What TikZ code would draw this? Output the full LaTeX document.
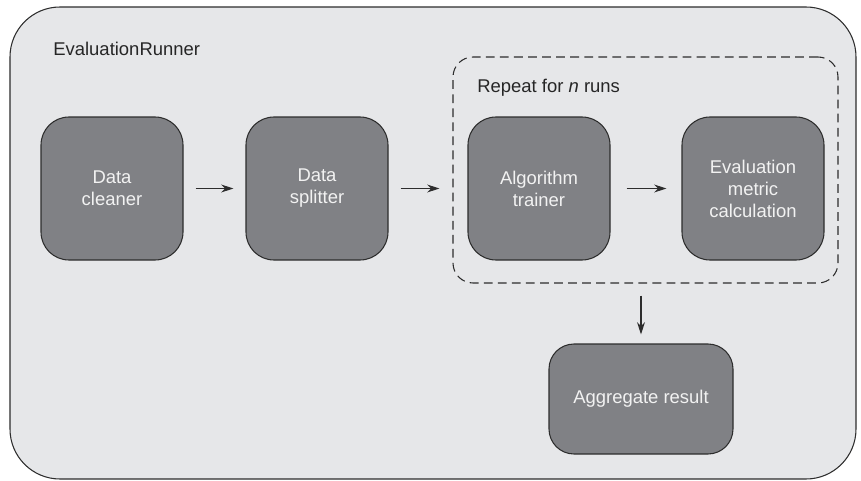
\documentclass[tikz,border=0pt]{standalone}
\usepackage{fontspec}
\setmainfont{Liberation Sans}
\usepackage{xcolor}
\definecolor{erpanel}{RGB}{230,231,233}
\definecolor{erbox}{RGB}{128,129,133}
\definecolor{erline}{RGB}{45,45,45}
\definecolor{ertext}{RGB}{242,242,242}
\usepackage{tikz}
\usetikzlibrary{arrows.meta,positioning}

\begin{document}
\begin{tikzpicture}[
  stagebox/.style={draw=erline, line width=0.6pt, fill=erbox, rounded corners=0.56cm,
    minimum width=2.84cm, minimum height=2.86cm, align=center, text=ertext,
    font=\fontsize{10.5}{12.5}\selectfont},
  flow/.style={-{Stealth[length=7pt,width=4.5pt]}, erline, line width=0.7pt}]

\useasboundingbox (0,0) rectangle (17.22,9.6);

% Outer panel
\draw[erline, line width=0.6pt, fill=erpanel, rounded corners=1cm] (0.2,0.02) rectangle (17.12,9.46);
\node[anchor=west, font=\fontsize{10.5}{12.5}\selectfont, text=black!85, inner sep=0pt] (title) at (1.06,8.62) {EvaluationRunner};

% Repeated part
\node[draw=erline, dash pattern=on 5pt off 3pt, line width=0.6pt, rounded corners=0.4cm,
      minimum width=7.7cm, minimum height=4.52cm] (loop) at (12.91,6.2) {};
\node[anchor=west, font=\fontsize{10.5}{12.5}\selectfont, text=black!85, inner sep=0pt] (looplabel) at (9.54,7.84) {Repeat for \textit{n} runs};

% Stages
\node[stagebox] (cleaner) at (2.24,5.83) {Data\\cleaner};
\node[stagebox] (splitter) at (6.34,5.83) {Data\\splitter};
\node[stagebox] (trainer) at (10.78,5.83) {Algorithm\\trainer};
\node[stagebox] (metric) at (15.06,5.83) {Evaluation\\metric\\calculation};
\node[stagebox, minimum width=3.68cm, minimum height=2.2cm, rounded corners=0.5cm] (aggregate) at (12.82,1.62) {Aggregate result};

\draw[flow, shorten <=0.24cm, shorten >=0.24cm] (cleaner.east) -- (splitter.west);
\draw[flow, shorten <=0.24cm, shorten >=0.26cm] (splitter.east) -- (loop.west |- splitter.east);
\draw[flow, shorten <=0.32cm, shorten >=0.3cm] (trainer.east) -- (metric.west);
\draw[flow, shorten <=0.24cm, shorten >=0.18cm] (aggregate.north |- loop.south) -- (aggregate.north);

\end{tikzpicture}
\end{document}
